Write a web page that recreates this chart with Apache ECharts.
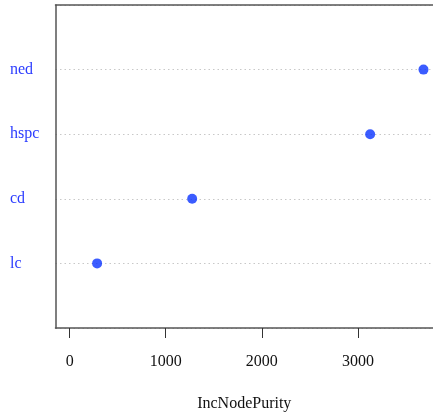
<!DOCTYPE html>
<html>
<head>
<meta charset="utf-8">
<script src="https://cdn.jsdelivr.net/npm/echarts@6/dist/echarts.min.js"></script>
<style>html,body{margin:0;padding:0;background:#fff}#c{width:433px;height:417px}</style>
</head>
<body>
<div id="c"></div>
<script>
const categories = ['lc', 'cd', 'hspc', 'ned'];
const values = [286, 1275, 3127, 3682];
const xTicks = [0, 1000, 2000, 3000];
const xTitle = 'IncNodePurity';

const yCats = [''].concat(categories, ['']);
const boxLine = {show: true, onZero: false, lineStyle: {color: '#555', width: 1.5}};
const chart = echarts.init(document.getElementById('c'), null, {renderer: 'canvas'});
chart.setOption({
  animation: false,
  grid: {left: 55.5, right: 0, top: 5, bottom: 89, show: false, containLabel: false},
  xAxis: [{
    type: 'value', min: -147, max: 3781, position: 'bottom',
    name: xTitle, nameLocation: 'middle', nameGap: 68,
    nameTextStyle: {fontFamily: 'Liberation Serif', fontSize: 16, color: '#111'},
    axisLine: boxLine,
    axisTick: {show: true, length: 10, customValues: xTicks, lineStyle: {color: '#333', width: 1}},
    axisLabel: {customValues: xTicks, margin: 26, fontFamily: 'Liberation Serif', fontSize: 16, color: '#111', formatter: v => String(v)},
    splitLine: {show: false}
  }, {
    type: 'value', min: -147, max: 3781, position: 'top',
    axisLine: boxLine, axisTick: {show: false}, axisLabel: {show: false}, splitLine: {show: false}
  }],
  yAxis: {
    type: 'category', data: yCats, boundaryGap: false, position: 'left',
    axisLine: boxLine, axisTick: {show: false},
    axisLabel: {align: 'left', margin: 45.5, fontFamily: 'Liberation Serif', fontSize: 16, color: '#2b3cff'},
    splitLine: {show: true, lineStyle: {type: [1.5, 3], color: '#c8c8c8', width: 1}}
  },
  series: [{
    type: 'scatter', symbol: 'circle', symbolSize: 10, xAxisIndex: 0,
    itemStyle: {color: '#0a33ff'},
    data: categories.map((c, i) => [values[i], c])
  }]
});
</script>
</body>
</html>
